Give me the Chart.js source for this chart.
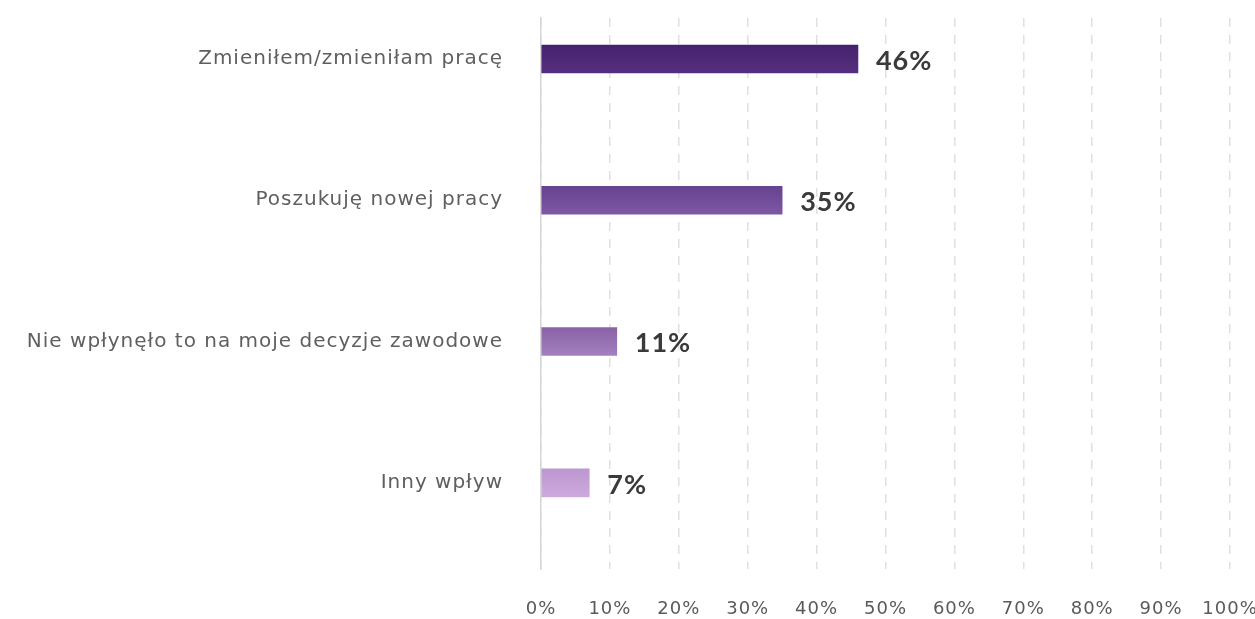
<!DOCTYPE html>
<html lang="pl">
<head>
<meta charset="utf-8">
<title>Wpływ na decyzje zawodowe</title>
<script src="https://cdn.jsdelivr.net/npm/chart.js@4"></script>
<style>
  html, body { margin: 0; padding: 0; background: #ffffff; }
  #wrap { width: 1255px; height: 619px; position: relative; }
</style>
</head>
<body>
<div id="wrap"><canvas id="impactChart"></canvas></div>
<script>
const categories = [
    'Zmieniłem/zmieniłam pracę',
    'Poszukuję nowej pracy',
    'Nie wpłynęło to na moje decyzje zawodowe',
    'Inny wpływ'
];
const shares = [46, 35, 11, 7];
const xTicks = [0, 10, 20, 30, 40, 50, 60, 70, 80, 90, 100];

// top and bottom shade of each bar
const barTop = ['#46226d', '#664290', '#8a62a7', '#bc97d0'];
const barBottom = ['#562e80', '#7e58a3', '#a380bf', '#cdaade'];

const LABEL_FONT = '"DejaVu Sans", sans-serif';
const VALUE_FONT = 'Lato, sans-serif';
const BAR_H = 28;

// vertical gradient per bar, placed from the y scale position of its row
function barGradient(ctx) {
    const yScale = ctx.chart.scales.y;
    if (!yScale || !ctx.chart.chartArea) return barTop[ctx.dataIndex];
    const cy = yScale.getPixelForValue(ctx.dataIndex);
    if (!isFinite(cy)) return barTop[ctx.dataIndex];
    const g = ctx.chart.ctx.createLinearGradient(0, cy - BAR_H / 2, 0, cy + BAR_H / 2);
    g.addColorStop(0, barTop[ctx.dataIndex]);
    g.addColorStop(1, barBottom[ctx.dataIndex]);
    return g;
}

// a little tracking on every text, set before measuring and before drawing
const tracking = {
    id: 'tracking',
    beforeUpdate(chart) { chart.ctx.letterSpacing = '1px'; },
    beforeDraw(chart) { chart.ctx.letterSpacing = '1px'; }
};

// bold percentage written to the right of each bar
const valueLabels = {
    id: 'valueLabels',
    afterDatasetsDraw(chart) {
        const c = chart.ctx;
        const meta = chart.getDatasetMeta(0);
        c.save();
        c.font = 'bold 27px ' + VALUE_FONT;
        c.fillStyle = '#3a3a3a';
        c.textBaseline = 'middle';
        c.textAlign = 'left';
        meta.data.forEach((bar, i) => {
            c.fillText(shares[i] + '%', bar.x + 18, bar.y + 2);
        });
        c.restore();
    }
};

new Chart(document.getElementById('impactChart'), {
    type: 'bar',
    data: {
        datasets: [{
            data: shares.map((v, i) => ({ x: v, y: i })),
            backgroundColor: barGradient,
            borderWidth: 0,
            barThickness: BAR_H
        }]
    },
    options: {
        indexAxis: 'y',
        responsive: true,
        maintainAspectRatio: false,
        animation: false,
        layout: { padding: { top: 18, right: 0, bottom: 0, left: 0 } },
        plugins: { legend: { display: false }, tooltip: { enabled: false } },
        scales: {
            x: {
                type: 'linear',
                min: 0,
                max: 100,
                afterBuildTicks: scale => { scale.ticks = xTicks.map(v => ({ value: v })); },
                afterFit: scale => {
                    scale.height = 50;
                    scale.paddingLeft = 0;
                    scale.paddingRight = 25;
                },
                ticks: {
                    callback: v => v + '%',
                    color: '#5a5a5a',
                    font: { family: LABEL_FONT, size: 18 },
                    padding: 30,
                    maxRotation: 0
                },
                grid: {
                    color: '#e0e0e0',
                    lineWidth: 1.5,
                    drawTicks: false
                },
                border: { display: false, dash: [9, 8] }
            },
            y: {
                type: 'linear',
                reverse: true,
                offset: false,
                min: -0.29,
                max: 3.61,
                afterBuildTicks: scale => { scale.ticks = categories.map((c, i) => ({ value: i })); },
                afterFit: scale => {
                    scale.width = 541;
                    scale.paddingTop = 0;
                    scale.paddingBottom = 0;
                },
                ticks: {
                    callback: v => categories[v] ?? '',
                    color: '#5f5f5f',
                    font: { family: LABEL_FONT, size: 20 },
                    padding: 38
                },
                grid: { display: false, drawTicks: false, offset: false },
                border: { display: true, color: '#d6d6d6', width: 1.5 }
            }
        }
    },
    plugins: [tracking, valueLabels]
});
</script>
</body>
</html>
